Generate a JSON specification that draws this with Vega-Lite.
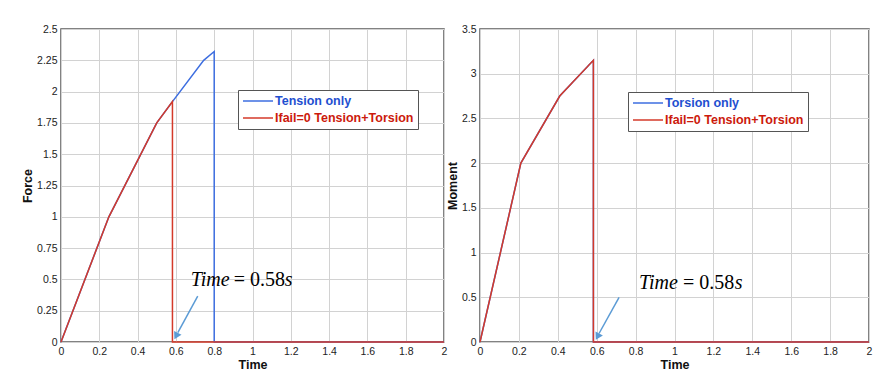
{
  "$schema": "https://vega.github.io/schema/vega-lite/v6.json",
  "padding": {"left": 20, "top": 23, "right": 0, "bottom": 0},
  "autosize": {"type": "pad"},
  "spacing": -3,
  "background": "white",
  "config": {
    "font": "Liberation Sans",
    "view": {"stroke": "#5a5a5a", "strokeWidth": 1.5},
    "axis": {
      "domain": false,
      "ticks": false,
      "labelFontSize": 10.5,
      "labelColor": "#222",
      "labelPadding": 4,
      "labelFlush": false,
      "labelOverlap": false,
      "titleFontSize": 12.5,
      "titleFontWeight": "bold",
      "titleColor": "#111",
      "titlePadding": 2,
      "gridColor": "#d2d2d2"
    },
    "legend": {
      "orient": "none",
      "direction": "vertical",
      "strokeColor": "#555",
      "fillColor": "white",
      "padding": 4,
      "symbolType": "M-1,0H4",
      "symbolStrokeWidth": 1.5,
      "symbolSize": 144,
      "rowPadding": 3,
      "labelFontSize": 12.5,
      "labelFontWeight": "bold",
      "labelOffset": 19,
      "title": null
    }
  },
  "datasets": {
    "force": [
      {"series": "Tension only", "i": 1, "t": 0, "v": 0},
      {"series": "Tension only", "i": 2, "t": 0.25, "v": 1.0},
      {"series": "Tension only", "i": 3, "t": 0.5, "v": 1.75},
      {"series": "Tension only", "i": 4, "t": 0.582, "v": 1.92},
      {"series": "Tension only", "i": 5, "t": 0.745, "v": 2.25},
      {"series": "Tension only", "i": 6, "t": 0.8, "v": 2.32},
      {"series": "Tension only", "i": 7, "t": 0.8, "v": 0},
      {"series": "Tension only", "i": 8, "t": 2, "v": 0},
      {"series": "Ifail=0 Tension+Torsion", "i": 1, "t": 0, "v": 0},
      {"series": "Ifail=0 Tension+Torsion", "i": 2, "t": 0.25, "v": 1.0},
      {"series": "Ifail=0 Tension+Torsion", "i": 3, "t": 0.5, "v": 1.75},
      {"series": "Ifail=0 Tension+Torsion", "i": 4, "t": 0.582, "v": 1.92},
      {"series": "Ifail=0 Tension+Torsion", "i": 5, "t": 0.582, "v": 0},
      {"series": "Ifail=0 Tension+Torsion", "i": 6, "t": 2, "v": 0}
    ],
    "moment": [
      {"series": "Torsion only", "i": 1, "t": 0, "v": 0},
      {"series": "Torsion only", "i": 2, "t": 0.21, "v": 2.0},
      {"series": "Torsion only", "i": 3, "t": 0.41, "v": 2.75},
      {"series": "Torsion only", "i": 4, "t": 0.583, "v": 3.15},
      {"series": "Torsion only", "i": 5, "t": 0.583, "v": 0},
      {"series": "Torsion only", "i": 6, "t": 2, "v": 0},
      {"series": "Ifail=0 Tension+Torsion", "i": 1, "t": 0, "v": 0},
      {"series": "Ifail=0 Tension+Torsion", "i": 2, "t": 0.21, "v": 2.0},
      {"series": "Ifail=0 Tension+Torsion", "i": 3, "t": 0.41, "v": 2.75},
      {"series": "Ifail=0 Tension+Torsion", "i": 4, "t": 0.583, "v": 3.15},
      {"series": "Ifail=0 Tension+Torsion", "i": 5, "t": 0.583, "v": 0},
      {"series": "Ifail=0 Tension+Torsion", "i": 6, "t": 2, "v": 0}
    ],
    "noteForceItalic": [
      {"t": 0.677, "v": 0.447, "txt": "Time"},
      {"t": 1.168, "v": 0.447, "txt": "s"}
    ],
    "noteForceRoman": [
      {"t": 0.902, "v": 0.447, "txt": "= 0.58"}
    ],
    "arrowForce": [
      {"t": 0.714, "v": 0.367, "t2": 0.61, "v2": 0.075}
    ],
    "arrowHeadForce": [
      {"t": 0.604, "v": 0.056}
    ],
    "noteMomentItalic": [
      {"t": 0.8175, "v": 0.598, "txt": "Time"},
      {"t": 1.31, "v": 0.598, "txt": "s"}
    ],
    "noteMomentRoman": [
      {"t": 1.044, "v": 0.598, "txt": "= 0.58"}
    ],
    "arrowMoment": [
      {"t": 0.715, "v": 0.50, "t2": 0.612, "v2": 0.095}
    ],
    "arrowHeadMoment": [
      {"t": 0.607, "v": 0.072}
    ]
  },
  "hconcat": [
    {
      "width": 383,
      "height": 313,
      "resolve": {"axis": {"x": "independent", "y": "independent"}},
      "layer": [
        {
          "data": {"name": "force"},
          "transform": [{"filter": "datum.series == 'Tension only'"}],
          "mark": {"type": "line", "strokeWidth": 1.5},
          "encoding": {
            "x": {
              "field": "t", "type": "quantitative", "title": "Time",
              "scale": {"domain": [0, 2], "nice": false},
              "axis": {"orient": "bottom", "values": [0, 0.2, 0.4, 0.6, 0.8, 1, 1.2, 1.4, 1.6, 1.8, 2], "labelOverlap": false, "labelExpr": "datum.value + ''"}
            },
            "y": {
              "field": "v", "type": "quantitative", "title": "Force",
              "scale": {"domain": [0, 2.5], "nice": false},
              "axis": {"orient": "left", "values": [0, 0.25, 0.5, 0.75, 1, 1.25, 1.5, 1.75, 2, 2.25, 2.5], "labelOverlap": false, "labelExpr": "datum.value + ''"}
            },
            "order": {"field": "i"},
            "color": {
              "field": "series", "type": "nominal",
              "scale": {"domain": ["Tension only", "Ifail=0 Tension+Torsion"], "range": ["#3d6ee0", "#d43a2a"]},
              "legend": {
                "legendX": 177, "legendY": 61,
                "encode": {"labels": {"update": {"fill": {"signal": "indexof(datum.label, 'Ifail') >= 0 ? '#cc1a0c' : '#1f4fd0'"}}}}
              }
            }
          }
        },
        {
          "data": {"name": "force"},
          "transform": [{"filter": "datum.series != 'Tension only'"}],
          "mark": {"type": "line", "strokeWidth": 1.5},
          "encoding": {
            "x": {"field": "t", "type": "quantitative", "axis": null},
            "y": {"field": "v", "type": "quantitative", "axis": null},
            "order": {"field": "i"},
            "color": {"field": "series", "type": "nominal"}
          }
        },
        {
          "data": {"name": "arrowForce"},
          "mark": {"type": "rule", "color": "#5b9bd5", "strokeWidth": 1.5},
          "encoding": {
            "x": {"field": "t", "type": "quantitative", "axis": null},
            "y": {"field": "v", "type": "quantitative", "axis": null},
            "x2": {"field": "t2"},
            "y2": {"field": "v2"}
          }
        },
        {
          "data": {"name": "arrowHeadForce"},
          "mark": {"type": "point", "shape": "triangle", "filled": true, "color": "#5b9bd5", "opacity": 1, "size": 70, "angle": 208},
          "encoding": {
            "x": {
              "field": "t", "type": "quantitative", "title": null,
              "axis": {"orient": "top", "values": [0.1, 0.3, 0.5, 0.7, 0.9, 1.1, 1.3, 1.5, 1.7, 1.9], "labels": false, "ticks": false, "domain": false, "gridDash": [1, 2], "gridColor": "#c4c4c4"}
            },
            "y": {
              "field": "v", "type": "quantitative", "title": null,
              "axis": {"orient": "right", "values": [0.125, 0.375, 0.625, 0.875, 1.125, 1.375, 1.625, 1.875, 2.125, 2.375], "labels": false, "ticks": false, "domain": false, "gridDash": [1, 2], "gridColor": "#c4c4c4"}
            }
          }
        },
        {
          "data": {"name": "noteForceItalic"},
          "mark": {"type": "text", "align": "left", "baseline": "alphabetic", "font": "Liberation Serif", "fontSize": 20, "fontStyle": "italic", "color": "#000"},
          "encoding": {
            "x": {"field": "t", "type": "quantitative", "axis": null},
            "y": {"field": "v", "type": "quantitative", "axis": null},
            "text": {"field": "txt"}
          }
        },
        {
          "data": {"name": "noteForceRoman"},
          "mark": {"type": "text", "align": "left", "baseline": "alphabetic", "font": "Liberation Serif", "fontSize": 20, "color": "#000"},
          "encoding": {
            "x": {"field": "t", "type": "quantitative", "axis": null},
            "y": {"field": "v", "type": "quantitative", "axis": null},
            "text": {"field": "txt"}
          }
        }
      ]
    },
    {
      "width": 389,
      "height": 313,
      "resolve": {"axis": {"x": "independent", "y": "independent"}},
      "layer": [
        {
          "data": {"name": "moment"},
          "transform": [{"filter": "datum.series == 'Torsion only'"}],
          "mark": {"type": "line", "strokeWidth": 1.5},
          "encoding": {
            "x": {
              "field": "t", "type": "quantitative", "title": "Time",
              "scale": {"domain": [0, 2], "nice": false},
              "axis": {"orient": "bottom", "values": [0, 0.2, 0.4, 0.6, 0.8, 1, 1.2, 1.4, 1.6, 1.8, 2], "labelOverlap": false, "labelExpr": "datum.value + ''"}
            },
            "y": {
              "field": "v", "type": "quantitative", "title": "Moment",
              "scale": {"domain": [0, 3.5], "nice": false},
              "axis": {"orient": "left", "values": [0, 0.5, 1, 1.5, 2, 2.5, 3, 3.5], "labelOverlap": false, "labelExpr": "datum.value + ''"}
            },
            "order": {"field": "i"},
            "color": {
              "field": "series", "type": "nominal",
              "scale": {"domain": ["Torsion only", "Ifail=0 Tension+Torsion"], "range": ["#3d6ee0", "#d43a2a"]},
              "legend": {
                "legendX": 148, "legendY": 63,
                "encode": {"labels": {"update": {"fill": {"signal": "indexof(datum.label, 'Ifail') >= 0 ? '#cc1a0c' : '#1f4fd0'"}}}}
              }
            }
          }
        },
        {
          "data": {"name": "moment"},
          "transform": [{"filter": "datum.series != 'Torsion only'"}],
          "mark": {"type": "line", "strokeWidth": 1.5},
          "encoding": {
            "x": {"field": "t", "type": "quantitative", "axis": null},
            "y": {"field": "v", "type": "quantitative", "axis": null},
            "order": {"field": "i"},
            "color": {"field": "series", "type": "nominal"}
          }
        },
        {
          "data": {"name": "arrowMoment"},
          "mark": {"type": "rule", "color": "#5b9bd5", "strokeWidth": 1.5},
          "encoding": {
            "x": {"field": "t", "type": "quantitative", "axis": null},
            "y": {"field": "v", "type": "quantitative", "axis": null},
            "x2": {"field": "t2"},
            "y2": {"field": "v2"}
          }
        },
        {
          "data": {"name": "arrowHeadMoment"},
          "mark": {"type": "point", "shape": "triangle", "filled": true, "color": "#5b9bd5", "opacity": 1, "size": 70, "angle": 208},
          "encoding": {
            "x": {
              "field": "t", "type": "quantitative", "title": null,
              "axis": {"orient": "top", "values": [0.1, 0.3, 0.5, 0.7, 0.9, 1.1, 1.3, 1.5, 1.7, 1.9], "labels": false, "ticks": false, "domain": false, "gridDash": [1, 2], "gridColor": "#c4c4c4"}
            },
            "y": {
              "field": "v", "type": "quantitative", "title": null,
              "axis": {"orient": "right", "values": [0.25, 0.75, 1.25, 1.75, 2.25, 2.75, 3.25], "labels": false, "ticks": false, "domain": false, "gridDash": [1, 2], "gridColor": "#c4c4c4"}
            }
          }
        },
        {
          "data": {"name": "noteMomentItalic"},
          "mark": {"type": "text", "align": "left", "baseline": "alphabetic", "font": "Liberation Serif", "fontSize": 20, "fontStyle": "italic", "color": "#000"},
          "encoding": {
            "x": {"field": "t", "type": "quantitative", "axis": null},
            "y": {"field": "v", "type": "quantitative", "axis": null},
            "text": {"field": "txt"}
          }
        },
        {
          "data": {"name": "noteMomentRoman"},
          "mark": {"type": "text", "align": "left", "baseline": "alphabetic", "font": "Liberation Serif", "fontSize": 20, "color": "#000"},
          "encoding": {
            "x": {"field": "t", "type": "quantitative", "axis": null},
            "y": {"field": "v", "type": "quantitative", "axis": null},
            "text": {"field": "txt"}
          }
        }
      ]
    }
  ],
  "resolve": {"scale": {"color": "independent"}, "legend": {"color": "independent"}}
}
